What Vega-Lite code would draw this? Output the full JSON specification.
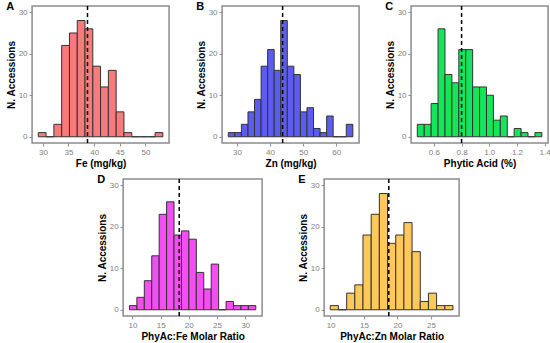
{
  "$schema": "https://vega.github.io/schema/vega-lite/v6.json",
  "padding": {"left": 5, "top": 0, "right": 0, "bottom": 0},
  "background": "white",
  "datasets": {
    "a": [
      {"x0": 29.10, "x1": 30.62, "n": 1}, {"x0": 30.62, "x1": 32.14, "n": 0}, {"x0": 32.14, "x1": 33.66, "n": 3},
      {"x0": 33.66, "x1": 35.18, "n": 22}, {"x0": 35.18, "x1": 36.70, "n": 25}, {"x0": 36.70, "x1": 38.21, "n": 28},
      {"x0": 38.21, "x1": 39.73, "n": 26}, {"x0": 39.73, "x1": 41.25, "n": 17}, {"x0": 41.25, "x1": 42.77, "n": 12},
      {"x0": 42.77, "x1": 44.29, "n": 16}, {"x0": 44.29, "x1": 45.81, "n": 6}, {"x0": 45.81, "x1": 47.33, "n": 1},
      {"x0": 47.33, "x1": 48.85, "n": 0}, {"x0": 48.85, "x1": 50.37, "n": 0}, {"x0": 50.37, "x1": 51.89, "n": 0},
      {"x0": 51.89, "x1": 53.40, "n": 1}
    ],
    "b": [
      {"x0": 27.40, "x1": 29.38, "n": 1}, {"x0": 29.38, "x1": 31.36, "n": 1}, {"x0": 31.36, "x1": 33.34, "n": 3},
      {"x0": 33.34, "x1": 35.32, "n": 6}, {"x0": 35.32, "x1": 37.30, "n": 9}, {"x0": 37.30, "x1": 39.27, "n": 17},
      {"x0": 39.27, "x1": 41.25, "n": 21}, {"x0": 41.25, "x1": 43.23, "n": 16}, {"x0": 43.23, "x1": 45.21, "n": 28},
      {"x0": 45.21, "x1": 47.19, "n": 17}, {"x0": 47.19, "x1": 49.17, "n": 15}, {"x0": 49.17, "x1": 51.15, "n": 6},
      {"x0": 51.15, "x1": 53.13, "n": 7}, {"x0": 53.13, "x1": 55.11, "n": 2}, {"x0": 55.11, "x1": 57.09, "n": 1},
      {"x0": 57.09, "x1": 59.06, "n": 5}, {"x0": 59.06, "x1": 61.04, "n": 0}, {"x0": 61.04, "x1": 63.02, "n": 0},
      {"x0": 63.02, "x1": 65.00, "n": 3}
    ],
    "c": [
      {"x0": 0.48, "x1": 0.53, "n": 3}, {"x0": 0.53, "x1": 0.58, "n": 3}, {"x0": 0.58, "x1": 0.63, "n": 8},
      {"x0": 0.63, "x1": 0.68, "n": 26}, {"x0": 0.68, "x1": 0.73, "n": 15}, {"x0": 0.73, "x1": 0.78, "n": 13},
      {"x0": 0.78, "x1": 0.83, "n": 21}, {"x0": 0.83, "x1": 0.88, "n": 21}, {"x0": 0.88, "x1": 0.93, "n": 12},
      {"x0": 0.93, "x1": 0.98, "n": 12}, {"x0": 0.98, "x1": 1.03, "n": 10}, {"x0": 1.03, "x1": 1.08, "n": 4},
      {"x0": 1.08, "x1": 1.13, "n": 5}, {"x0": 1.13, "x1": 1.18, "n": 0}, {"x0": 1.18, "x1": 1.23, "n": 2},
      {"x0": 1.23, "x1": 1.28, "n": 1}, {"x0": 1.28, "x1": 1.33, "n": 0}, {"x0": 1.33, "x1": 1.38, "n": 1}
    ],
    "d": [
      {"x0": 9.46, "x1": 10.78, "n": 1}, {"x0": 10.78, "x1": 12.10, "n": 3}, {"x0": 12.10, "x1": 13.42, "n": 7},
      {"x0": 13.42, "x1": 14.74, "n": 13}, {"x0": 14.74, "x1": 16.06, "n": 23}, {"x0": 16.06, "x1": 17.38, "n": 26},
      {"x0": 17.38, "x1": 18.70, "n": 18}, {"x0": 18.70, "x1": 20.02, "n": 19}, {"x0": 20.02, "x1": 21.34, "n": 17},
      {"x0": 21.34, "x1": 22.66, "n": 9}, {"x0": 22.66, "x1": 23.98, "n": 5}, {"x0": 23.98, "x1": 25.30, "n": 11},
      {"x0": 25.30, "x1": 26.62, "n": 0}, {"x0": 26.62, "x1": 27.94, "n": 2}, {"x0": 27.94, "x1": 29.26, "n": 1},
      {"x0": 29.26, "x1": 30.58, "n": 1}, {"x0": 30.58, "x1": 31.90, "n": 1}
    ],
    "e": [
      {"x0": 9.95, "x1": 11.17, "n": 1}, {"x0": 11.17, "x1": 12.40, "n": 0}, {"x0": 12.40, "x1": 13.62, "n": 4},
      {"x0": 13.62, "x1": 14.84, "n": 6}, {"x0": 14.84, "x1": 16.07, "n": 18}, {"x0": 16.07, "x1": 17.29, "n": 23},
      {"x0": 17.29, "x1": 18.51, "n": 28}, {"x0": 18.51, "x1": 19.74, "n": 16}, {"x0": 19.74, "x1": 20.96, "n": 18},
      {"x0": 20.96, "x1": 22.18, "n": 21}, {"x0": 22.18, "x1": 23.41, "n": 14}, {"x0": 23.41, "x1": 24.63, "n": 2},
      {"x0": 24.63, "x1": 25.85, "n": 4}, {"x0": 25.85, "x1": 27.08, "n": 1}, {"x0": 27.08, "x1": 28.30, "n": 1}
    ]
  },
  "vconcat": [
    {
      "hconcat": [
        {
          "width": 137, "height": 137,
          "title": {"text": "A"},
          "layer": [
            {
              "data": {"name": "a"},
              "mark": {"type": "rect", "fill": "#F77B7B", "stroke": "#333333", "strokeWidth": 1},
              "encoding": {
                "x": {"field": "x0", "type": "quantitative", "scale": {"domain": [27.885, 54.615], "nice": false, "zero": false}, "axis": {"values": [30, 35, 40, 45, 50], "title": "Fe (mg/kg)"}},
                "x2": {"field": "x1"},
                "y": {"field": "n", "type": "quantitative", "scale": {"domain": [-1.5, 31.5], "nice": false, "zero": false}, "axis": {"values": [0, 10, 20, 30], "title": "N. Accessions"}},
                "y2": {"datum": 0}
              }
            },
            {
              "data": {"values": [{"mean": 38.7}]},
              "mark": {"type": "rule", "color": "black", "strokeWidth": 1.5, "strokeDash": [4, 3]},
              "encoding": {
                "x": {"field": "mean", "type": "quantitative", "scale": {"domain": [27.885, 54.615], "nice": false, "zero": false}, "axis": {"values": [30, 35, 40, 45, 50], "title": "Fe (mg/kg)"}}
              }
            }
          ]
        },
        {
          "hconcat": [
            {
              "width": 137, "height": 137,
              "title": {"text": "B"},
              "layer": [
                {
                  "data": {"name": "b"},
                  "mark": {"type": "rect", "fill": "#5C5CF0", "stroke": "#333333", "strokeWidth": 1},
                  "encoding": {
                    "x": {"field": "x0", "type": "quantitative", "scale": {"domain": [25.52, 66.88], "nice": false, "zero": false}, "axis": {"values": [30, 40, 50, 60], "title": "Zn (mg/kg)"}},
                    "x2": {"field": "x1"},
                    "y": {"field": "n", "type": "quantitative", "scale": {"domain": [-1.5, 31.5], "nice": false, "zero": false}, "axis": {"values": [0, 10, 20, 30], "title": "N. Accessions"}},
                    "y2": {"datum": 0}
                  }
                },
                {
                  "data": {"values": [{"mean": 43.8}]},
                  "mark": {"type": "rule", "color": "black", "strokeWidth": 1.5, "strokeDash": [4, 3]},
                  "encoding": {
                    "x": {"field": "mean", "type": "quantitative", "scale": {"domain": [25.52, 66.88], "nice": false, "zero": false}, "axis": {"values": [30, 40, 50, 60], "title": "Zn (mg/kg)"}}
                  }
                }
              ]
            },
            {
              "width": 137, "height": 137,
              "title": {"text": "C"},
              "layer": [
                {
                  "data": {"name": "c"},
                  "mark": {"type": "rect", "fill": "#14E65A", "stroke": "#333333", "strokeWidth": 1},
                  "encoding": {
                    "x": {"field": "x0", "type": "quantitative", "scale": {"domain": [0.435, 1.425], "nice": false, "zero": false}, "axis": {"values": [0.6, 0.8, 1.0, 1.2, 1.4], "format": ".1f", "title": "Phytic Acid (%)"}},
                    "x2": {"field": "x1"},
                    "y": {"field": "n", "type": "quantitative", "scale": {"domain": [-1.5, 31.5], "nice": false, "zero": false}, "axis": {"values": [0, 10, 20, 30], "title": "N. Accessions"}},
                    "y2": {"datum": 0}
                  }
                },
                {
                  "data": {"values": [{"mean": 0.80}]},
                  "mark": {"type": "rule", "color": "black", "strokeWidth": 1.5, "strokeDash": [4, 3]},
                  "encoding": {
                    "x": {"field": "mean", "type": "quantitative", "scale": {"domain": [0.435, 1.425], "nice": false, "zero": false}, "axis": {"values": [0.6, 0.8, 1.0, 1.2, 1.4], "format": ".1f", "title": "Phytic Acid (%)"}}
                  }
                }
              ]
            }
          ],
          "spacing": 24
        }
      ],
      "spacing": 25
    },
    {
      "hconcat": [
        {
          "width": 139, "height": 137,
          "title": {"text": "D"},
          "layer": [
            {
              "data": {"name": "d"},
              "mark": {"type": "rect", "fill": "#F24EF2", "stroke": "#333333", "strokeWidth": 1},
              "encoding": {
                "x": {"field": "x0", "type": "quantitative", "scale": {"domain": [8.338, 33.022], "nice": false, "zero": false}, "axis": {"values": [10, 15, 20, 25, 30], "title": "PhyAc:Fe Molar Ratio"}},
                "x2": {"field": "x1"},
                "y": {"field": "n", "type": "quantitative", "scale": {"domain": [-1.5, 31.5], "nice": false, "zero": false}, "axis": {"values": [0, 10, 20, 30], "title": "N. Accessions"}},
                "y2": {"datum": 0}
              }
            },
            {
              "data": {"values": [{"mean": 18.3}]},
              "mark": {"type": "rule", "color": "black", "strokeWidth": 1.5, "strokeDash": [4, 3]},
              "encoding": {
                "x": {"field": "mean", "type": "quantitative", "scale": {"domain": [8.338, 33.022], "nice": false, "zero": false}, "axis": {"values": [10, 15, 20, 25, 30], "title": "PhyAc:Fe Molar Ratio"}}
              }
            }
          ]
        },
        {
          "width": 135, "height": 137,
          "title": {"text": "E"},
          "layer": [
            {
              "data": {"name": "e"},
              "mark": {"type": "rect", "fill": "#FFC85A", "stroke": "#333333", "strokeWidth": 1},
              "encoding": {
                "x": {"field": "x0", "type": "quantitative", "scale": {"domain": [9.03, 29.22], "nice": false, "zero": false}, "axis": {"values": [10, 15, 20, 25], "title": "PhyAc:Zn Molar Ratio"}},
                "x2": {"field": "x1"},
                "y": {"field": "n", "type": "quantitative", "scale": {"domain": [-1.5, 31.5], "nice": false, "zero": false}, "axis": {"values": [0, 10, 20, 30], "title": "N. Accessions"}},
                "y2": {"datum": 0}
              }
            },
            {
              "data": {"values": [{"mean": 18.7}]},
              "mark": {"type": "rule", "color": "black", "strokeWidth": 1.5, "strokeDash": [4, 3]},
              "encoding": {
                "x": {"field": "mean", "type": "quantitative", "scale": {"domain": [9.03, 29.22], "nice": false, "zero": false}, "axis": {"values": [10, 15, 20, 25], "title": "PhyAc:Zn Molar Ratio"}}
              }
            }
          ]
        }
      ],
      "spacing": 34
    }
  ],
  "spacing": 4,
  "center": true,
  "config": {
    "font": "Liberation Sans",
    "view": {"stroke": "#8c8c8c", "strokeWidth": 1.5},
    "axis": {
      "grid": false, "domain": false, "tickColor": "#8c8c8c", "tickSize": 3, "tickWidth": 1,
      "labelColor": "#808080", "labelFontSize": 8, "labelPadding": 2, "labelFlush": false, "labelOverlap": false, "labelBound": false,
      "titleFontSize": 10, "titleFontWeight": "bold", "titleColor": "#000000", "titlePadding": 2
    },
    "title": {"fontSize": 11, "fontWeight": "bold", "anchor": "start", "frame": "bounds", "baseline": "alphabetic", "offset": -7, "color": "#000000"}
  }
}
